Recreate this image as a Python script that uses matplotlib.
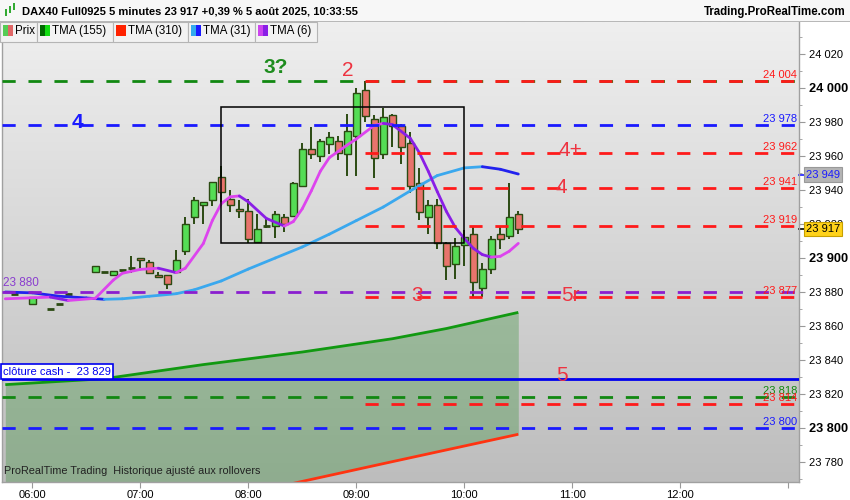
import numpy as np
import matplotlib
matplotlib.use('Agg')
import matplotlib.pyplot as plt
from matplotlib.collections import LineCollection
from matplotlib.patches import Rectangle
from matplotlib.colors import LinearSegmentedColormap
import matplotlib.transforms as mtransforms

plt.rcParams['font.family'] = ['Liberation Sans', 'DejaVu Sans']
plt.rcParams['lines.scale_dashes'] = False

W, H = 850, 500

# ---------------- data ----------------
candle_times = ['05:50', '06:00', '06:10', '06:15', '06:20', '06:35', '06:40', '06:45', '06:50', '06:55',
                '07:00', '07:05', '07:10', '07:15', '07:20', '07:25', '07:30', '07:35', '07:40', '07:45',
                '07:50', '07:55', '08:00', '08:05', '08:10', '08:15', '08:20', '08:25', '08:30', '08:35',
                '08:40', '08:45', '08:50', '08:55', '09:00', '09:05', '09:10', '09:15', '09:20', '09:25',
                '09:30', '09:35', '09:40', '09:45', '09:50', '09:55', '10:00', '10:05', '10:10', '10:15',
                '10:20', '10:25', '10:30']
opens = [23879, 23873, 23870, 23873, 23879, 23891.5, 23892, 23890, 23893, 23894.3,
         23899.8, 23897.6, 23890, 23889.8, 23891.6, 23904.1, 23924, 23931, 23934, 23947.5,
         23934.5, 23928.6, 23927.5, 23909.6, 23919, 23918.8, 23923.9, 23924.5, 23942.5, 23963.9,
         23959.8, 23966.9, 23968.8, 23961, 23971.6, 23998.6, 23981.6, 23961, 23983.9, 23977.6,
         23967.5, 23943.9, 23924.3, 23931, 23908.6, 23896.7, 23907.6, 23913.9, 23882.5, 23893.7,
         23913.9, 23912.9, 23925.7]
highs = [23879, 23877, 23870, 23873, 23879, 23895.5, 23892, 23892.5, 23893, 23901,
         23900, 23898.8, 23891.6, 23889.8, 23904.7, 23923.9, 23936, 23933, 23944.5, 23954.1,
         23940, 23934, 23934.5, 23925.9, 23924.3, 23927.6, 23925.9, 23944.7, 23967.5, 23976.9,
         23970, 23974.1, 23971.8, 23984.7, 24000, 24004, 23984.1, 23988.4, 23984.7, 23978.6,
         23974.1, 23952.9, 23934.1, 23934.5, 23909.6, 23911.6, 23916.5, 23919, 23896.9, 23912.9,
         23919, 23943.9, 23927.6]
lows = [23879, 23873, 23870, 23873, 23879, 23891.5, 23892, 23890, 23893, 23891,
        23893.3, 23891, 23888.4, 23881.6, 23891.6, 23901.8, 23919.8, 23919.8, 23930.8, 23930.8,
        23927.2, 23923.7, 23909, 23909.6, 23917.5, 23911.6, 23915.5, 23924.5, 23942.5, 23958.4,
        23956.7, 23961, 23957.6, 23948.2, 23948.4, 23980, 23947.2, 23958, 23965.5, 23955.5,
        23938.4, 23922.4, 23914.3, 23905.5, 23886.9, 23887.5, 23895.5, 23877, 23877, 23890.8,
        23905.5, 23911, 23913.9]
closes = [23879, 23877, 23870, 23873, 23879, 23895.5, 23892, 23892.5, 23893, 23894.3,
          23898.6, 23891, 23888.8, 23884.5, 23898.6, 23919.8, 23933.9, 23932.8, 23944.5, 23938.7,
          23931, 23927.5, 23911, 23916.9, 23919, 23925.9, 23919.8, 23943.9, 23963.9, 23961,
          23968.8, 23971, 23961.6, 23974.7, 23997, 23983.7, 23958.6, 23982.8, 23977.8, 23965.5,
          23942.5, 23927.2, 23931, 23908.6, 23895.5, 23907.1, 23912.4, 23885.7, 23893.7, 23911,
          23911, 23923.9, 23917]

tma6_times = ['05:45', '06:10', '06:20', '06:35', '06:45', '06:50', '07:00', '07:10', '07:20', '07:25',
              '07:35', '07:40', '07:45', '07:50', '07:55', '08:00', '08:10', '08:20', '08:25', '08:30',
              '08:35', '08:40', '08:45', '08:55', '09:00', '09:10', '09:15', '09:20', '09:30', '09:35',
              '09:40', '09:45', '09:50', '09:55', '10:00', '10:05', '10:10', '10:15', '10:20', '10:25', '10:30']
tma6_vals = [23876, 23877, 23875, 23876.3, 23887, 23891, 23893.3, 23894, 23891.4, 23894,
             23908.5, 23922, 23932, 23936, 23936.5, 23933, 23923.3, 23918.8, 23921.4, 23929,
             23939.5, 23951, 23959, 23966.5, 23970, 23978, 23979.2, 23978.5, 23970.4, 23962,
             23951, 23939, 23927.5, 23918, 23911.5, 23905.7, 23902, 23900.5, 23901, 23904, 23908.6]

tma31_times = ['05:45', '06:00', '06:15', '06:30', '06:40', '06:50', '07:05', '07:20', '07:30', '07:45',
               '08:00', '08:15', '08:30', '08:45', '09:00', '09:15', '09:30', '09:45', '10:00', '10:10',
               '10:20', '10:30']
tma31_vals = [23880, 23879.5, 23877.5, 23876.5, 23875.7, 23876, 23877.5, 23879, 23881.3, 23886.5,
              23893.5, 23900, 23906.5, 23914, 23922, 23930, 23939.5, 23948.5, 23953, 23953.7,
              23952.2, 23949.4]

tma_long_times = ['05:45', '06:40', '07:35', '08:30', '09:20', '09:50', '10:30']
tma155_vals = [23825.5, 23829, 23837.3, 23844.7, 23852.5, 23858.5, 23868]
tma310_vals = [23730.4, 23743.1, 23755.8, 23768.6, 23780.2, 23787.1, 23796.3]

level_values = [24004, 24004, 23978, 23962, 23941, 23919, 23880, 23877, 23829, 23818, 23814, 23800]
level_colors = ['#118811', '#ff1a1a', '#1a1aff', '#ff1a1a', '#ff1a1a', '#ff1a1a', '#8a1ecf',
                '#ff1a1a', '#0000ee', '#118811', '#ff1a1a', '#1a1aff']
level_starts = ['05:40', '09:05', '05:40', '09:05', '09:05', '09:05', '05:40',
                '09:05', '05:40', '05:40', '09:05', '05:40']
level_solid = [False, False, False, False, False, False, False, False, True, False, False, False]
level_labels = ['', '24 004', '23 978', '23 962', '23 941', '23 919', '',
                '23 877', '', '23 818', '23 814', '23 800']

note_texts = ['3?', '2', '4', '4+', '4', '3', '5r', '5']
note_times = ['08:15', '08:55', '06:25', '10:59', '10:54', '09:34', '10:59', '10:54']
note_values = [24012, 24010.5, 23979.5, 23963.5, 23941.2, 23878.2, 23878.2, 23830.9]
note_colors = ['#1e8c1e', '#ee3340', '#1a1aff', '#ee3340', '#ee3340', '#ee3340', '#ee3340', '#ee3340']
note_bold = [True, False, True, False, False, False, False, False]

box_start, box_end = '07:45', '10:00'
box_low, box_high = 23908.6, 23988.6

y_ticks = [23780, 23800, 23820, 23840, 23860, 23880, 23900, 23920, 23940, 23960, 23980, 24000, 24020]
x_tick_labels = ['06:00', '07:00', '08:00', '09:00', '10:00', '11:00', '12:00', '']
x_tick_times = ['06:00', '07:00', '08:00', '09:00', '10:00', '11:00', '12:00', '13:00']


def hrs(t):
    h, m = t.split(':')
    return int(h) + int(m) / 60.0


def fmt(v):
    return '{:,}'.format(int(v)).replace(',', ' ')


# ---------------- figure ----------------
fig = plt.figure(figsize=(W / 100, H / 100), dpi=100)
fig.patch.set_facecolor('white')

ax_l, ax_r, ax_t, ax_b = 2, 799, 22, 482
ax = fig.add_axes([ax_l / W, 1 - ax_b / H, (ax_r - ax_l) / W, (ax_b - ax_t) / H])

# mapping: x pixel = 32.3 + (h-6)*108 ; y pixel = 88 + (24000-v)*1.7
xlim = (6 + (ax_l - 32.3) / 108, 6 + (ax_r - 32.3) / 108)
ylim = (24000 - (ax_b - 88) / 1.7, 24000 - (ax_t - 88) / 1.7)
ax.set_xlim(*xlim)
ax.set_ylim(*ylim)
ax.set_autoscale_on(False)

# background gradient
cmap = LinearSegmentedColormap.from_list('bg', ['#bdbdbd', '#efefef'])
grad = np.linspace(0, 1, 256).reshape(-1, 1)
ax.imshow(grad, extent=[xlim[0], xlim[1], ylim[0], ylim[1]], origin='lower',
          aspect='auto', cmap=cmap, zorder=0)

# TMA 155 / 310 cloud
lt = [hrs(t) for t in tma_long_times]
ax.fill_between(lt, tma310_vals, tma155_vals, color='#2e8b2e', alpha=0.32, lw=0, zorder=1)
ax.plot(lt, tma155_vals, color='#119911', lw=2, zorder=2, solid_capstyle='butt')
ax.plot(lt, tma310_vals, color='#ff3311', lw=2, zorder=2, solid_capstyle='butt')

# candles
ct = np.array([hrs(t) for t in candle_times])
o = np.array(opens); c = np.array(closes); hi = np.array(highs); lo = np.array(lows)
bw = 0.064
edge = '#2b4a12'
ax.vlines(ct, lo, hi, color=edge, lw=1.4, zorder=3)
up = c > o
dn = c < o
fl = c == o
ax.bar(ct[up], (c - o)[up], bottom=o[up], width=bw, color='#55dd55', edgecolor=edge, lw=1.0, zorder=3.5)
ax.bar(ct[dn], (c - o)[dn], bottom=o[dn], width=bw, color='#e8746c', edgecolor=edge, lw=1.0, zorder=3.5)
ax.hlines(o[fl], ct[fl] - bw / 2, ct[fl] + bw / 2, color=edge, lw=2, zorder=3.5)


def slope_line(times, vals, c_up, c_dn, lw=2.0):
    x = np.array([hrs(t) for t in times]); y = np.array(vals)
    segs = [[(x[i], y[i]), (x[i + 1], y[i + 1])] for i in range(len(x) - 1)]
    cols = [c_up if y[i + 1] >= y[i] else c_dn for i in range(len(x) - 1)]
    lc = LineCollection(segs, colors=cols, linewidths=lw, zorder=4, capstyle='round')
    ax.add_collection(lc)


slope_line(tma31_times, tma31_vals, '#3aa8ee', '#2222ee')
slope_line(tma6_times, tma6_vals, '#dd44ee', '#8a1ee6')

# levels
lab_tr = mtransforms.blended_transform_factory(ax.transAxes, ax.transData)
for v, col, st, solid, lab in zip(level_values, level_colors, level_starts, level_solid, level_labels):
    x0 = xlim[0] if st == '05:40' else hrs(st)
    if solid:
        ax.plot([x0, xlim[1]], [v, v], color=col, lw=2, zorder=5)
    else:
        ln, = ax.plot([x0, xlim[1] - 0.02], [v, v], color=col, lw=2, zorder=5, dash_capstyle='butt')
        ln.set_dashes((9.5, 9.2))
    if lab:
        ax.text(0.9975, v + 0.6, lab, transform=lab_tr, ha='right', va='bottom', fontsize=8,
                color=col, zorder=6)

# left labels
ax.text(xlim[0] + 0.008, 23880 + 1.5, '23 880', fontsize=8.5, color='#8a3ecf', ha='left', va='bottom', zorder=6)
ax.text(xlim[0] + 0.012, 23829 + 1.2, 'clôture cash -  23 829', fontsize=8, color='#0000ee',
        ha='left', va='bottom', zorder=7,
        bbox=dict(boxstyle='square,pad=0.2', facecolor='white', edgecolor='#0000ee', lw=1.2))

# annotations
for tx, tt, tv, tc, tb in zip(note_texts, note_times, note_values, note_colors, note_bold):
    ax.text(hrs(tt), tv, tx, fontsize=15, color=tc, ha='center', va='center', zorder=6,
            fontweight='bold' if tb else 'normal')

# rectangle
ax.add_patch(Rectangle((hrs(box_start), box_low), hrs(box_end) - hrs(box_start), box_high - box_low,
                       fill=False, edgecolor='black', lw=1.1, zorder=5.5))

ax.text(0.002, 0.012, 'ProRealTime Trading  Historique ajusté aux rollovers', transform=ax.transAxes,
        fontsize=7.8, color='#222222', ha='left', va='bottom', zorder=6)

# axes styling
ax.yaxis.tick_right()
ax.set_yticks(y_ticks)
ax.set_yticklabels([fmt(v) for v in y_ticks])
ax.set_yticks(np.arange(23770, 24040, 10), minor=True)
ax.tick_params(axis='y', which='major', direction='out', length=4, color='#999999', labelsize=8, pad=3)
ax.tick_params(axis='y', which='minor', direction='out', length=2.5, color='#999999')
for lab, v in zip(ax.get_yticklabels(), y_ticks):
    if v % 100 == 0:
        lab.set_fontweight('bold')
        lab.set_fontsize(9.2)
ax.set_xticks([hrs(t) for t in x_tick_times])
ax.set_xticklabels(x_tick_labels)
ax.tick_params(axis='x', direction='out', length=4, color='#999999', labelsize=8, pad=1.5)
ax.spines['top'].set_visible(False)
for s in ['left', 'right', 'bottom']:
    ax.spines[s].set_color('#a0a0a0')
    ax.spines[s].set_linewidth(1)

# current-value boxes on the axis
ax.text(1.0085, 23949, '23 949', transform=lab_tr, fontsize=8, color='#1a1aff', ha='left', va='center',
        clip_on=False, zorder=8,
        bbox=dict(boxstyle='square,pad=0.2', facecolor='#b4b4b4', edgecolor='#999999', lw=0.8))
ax.text(1.0085, 23917, '23 917', transform=lab_tr, fontsize=8, color='black', ha='left', va='center',
        clip_on=False, zorder=8,
        bbox=dict(boxstyle='square,pad=0.2', facecolor='#ffd21a', edgecolor='#c8a000', lw=0.8))
ax.plot([1.0, 1.006], [23949, 23949], transform=lab_tr, color='#1a1aff', lw=1.2, clip_on=False)
ax.plot([1.0, 1.006], [23917, 23917], transform=lab_tr, color='black', lw=1.2, clip_on=False)


# ---------------- header ----------------
def frect(x0, y0, x1, y1, **kw):
    fig.add_artist(Rectangle((x0 / W, 1 - y1 / H), (x1 - x0) / W, (y1 - y0) / H,
                             transform=fig.transFigure, **kw))


frect(0, 0, W, 21, facecolor='#f7f7f7', edgecolor='none')
frect(0, 20.5, W, 21.5, facecolor='#b8b8b8', edgecolor='none')
# icon
frect(5, 9, 7, 16, facecolor='#33aa33', edgecolor='none')
frect(9, 6, 11, 13, facecolor='#33aa33', edgecolor='none')
frect(13, 3, 15, 10, facecolor='#33aa33', edgecolor='none')
fig.text(22 / W, 1 - 11.5 / H, 'DAX40 Full0925 5 minutes 23 917 +0,39 % 5 août 2025, 10:33:55',
         fontsize=8, fontweight='bold', ha='left', va='center', color='black')
fig.text(846 / W, 1 - 11.5 / H, 'Trading.ProRealTime.com', fontsize=8.3, fontweight='bold',
         ha='right', va='center', color='black')

legend_labels = ['Prix', 'TMA (155)', 'TMA (310)', 'TMA (31)', 'TMA (6)']
legend_x0 = [0, 37, 113, 188, 255]
legend_x1 = [37, 113, 188, 255, 316.5]
legend_c1 = ['#55cc55', '#006a00', '#ff2200', '#33aaee', '#cc44ee']
legend_c2 = ['#e06666', '#11dd11', '#ff2200', '#1a1aff', '#8a1ee6']
for lab, x0, x1, c1, c2 in zip(legend_labels, legend_x0, legend_x1, legend_c1, legend_c2):
    frect(x0, 22, x1, 42, facecolor='#f2f2f2', edgecolor='#b5b5b5', lw=0.8)
    frect(x0 + 3, 25, x0 + 8, 36, facecolor=c1, edgecolor='none')
    frect(x0 + 8, 25, x0 + 13, 36, facecolor=c2, edgecolor='none')
    fig.text((x0 + 15) / W, 1 - 31 / H, lab, fontsize=8.3, ha='left', va='center', color='black')

fig.savefig('out.png', dpi=100, facecolor=fig.get_facecolor())
